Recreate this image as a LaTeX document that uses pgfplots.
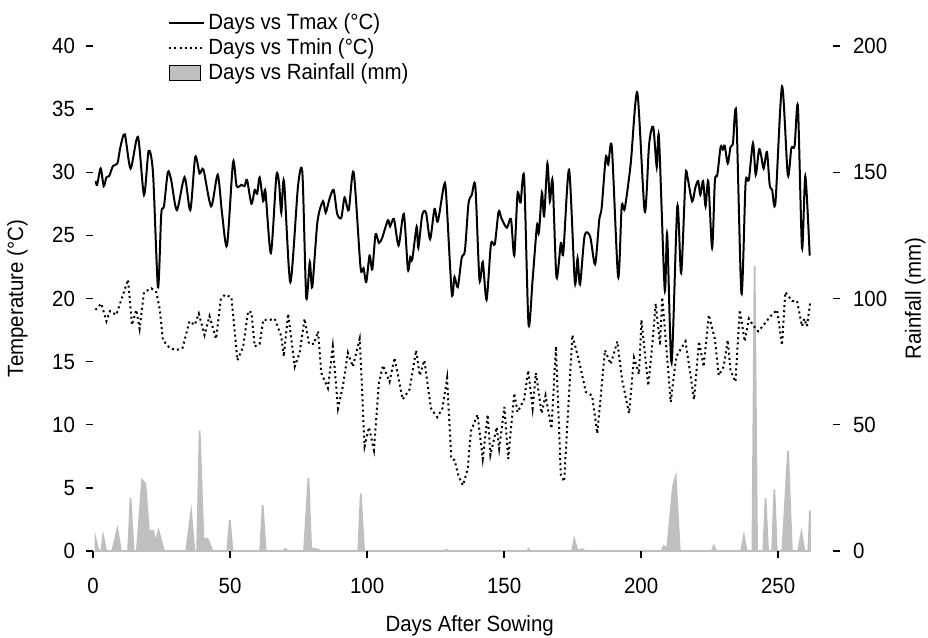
\documentclass[border=0pt]{standalone}
\usepackage{fontspec}
\setmainfont{Liberation Sans}[FakeStretch=0.93]
\usepackage{pgfplots}
\pgfplotsset{compat=1.18}
\definecolor{raingray}{RGB}{190,192,192}

\pgfplotsset{
  common/.style={
    width=370pt, height=252.5pt, scale only axis,
    xmin=0, xmax=270,
    axis line style={draw=none},
    tick align=outside, major tick length=3.5pt,
    tick style={black, line width=0.7pt},
    /pgf/number format/assume math mode=true,
    tick label style={font=\fontsize{11}{13}\selectfont},
    label style={font=\fontsize{11}{13}\selectfont, inner sep=0pt},
  }
}

\begin{document}
\begin{tikzpicture}[font=\fontsize{11}{13}\selectfont]

% rainfall, right axis (drawn first, sits behind)
\begin{axis}[common, clip=false,
  ymin=0, ymax=200, ytick={0,50,...,200},
  axis y line*=right, axis x line=none,
  yticklabel style={xshift=3pt},
  ylabel={Rainfall (mm)},
  ylabel style={at={(axis description cs:1.111,0.5)}, anchor=center}]
\addplot[fill=raingray, draw=raingray, line width=0.9pt] coordinates {
 (0.9,5.0) (2.0,0) (3.0,0) (3.7,5.9) (4.8,0) (7.0,0) (8.9,8.6) (10.2,0)
 (12.8,0) (13.7,20.9) (14.8,0) (16.0,0) (17.9,28.1) (19.1,26.6) (20.4,8.0)
 (21.0,8.0) (22.0,7.9) (22.7,3.0) (23.9,8.0) (25.9,0) (34.0,0) (35.8,15.3)
 (37.0,0) (38.0,0) (38.9,47.7) (40.3,4.5) (41.7,4.8) (42.4,3.5) (43.5,0)
 (49.0,0) (49.9,12.3) (50.9,0) (61.0,0) (61.9,18.2) (63.0,0) (69.5,0)
 (70.2,0.8) (71.0,0) (77.0,0) (78.6,28.8) (79.6,1.0) (82.0,0.6) (83.0,0)
 (96.8,0) (97.7,22.8) (98.9,0) (128.5,0) (128.9,0.5) (129.5,0) (158.5,0)
 (158.9,0.8) (159.5,0) (174.8,0) (175.6,4.6) (176.8,0) (178.6,0.7) (179.5,0)
 (207.5,0) (208.3,2.0) (209.5,1.0) (211.6,25.5) (212.6,29.4) (214.1,0)
 (225.8,0) (226.5,2.0) (227.4,0) (236.5,0) (237.5,5.9) (238.5,0) (240.6,0)
 (241.4,112.9) (242.3,0) (244.6,0) (245.4,20.9) (246.3,0) (247.8,0)
 (248.6,24.4) (249.5,0) (251.5,0) (253.6,39.6) (255.0,0) (257.3,0)
 (258.5,7.3) (259.6,0) (261.0,0) (261.6,16.0)
} \closedcycle;
\end{axis}

% temperatures, left axis
\begin{axis}[common, clip=false,
  ymin=0, ymax=40, ytick={0,5,...,40},
  xtick={0,50,...,250},
  axis y line*=left, axis x line*=bottom,
  yticklabel style={xshift=-2pt},
  xticklabel style={yshift=-6.5pt},
  ylabel={Temperature (°C)},
  ylabel style={at={(axis description cs:-0.102,0.5)}, anchor=center},
  xlabel={Days After Sowing},
  xlabel style={at={(axis description cs:0.509,-0.148)}, anchor=center},
  legend style={at={(axis description cs:0.093,1.08)}, anchor=north west,
    draw=none, fill=none, font=\fontsize{11}{13}\selectfont,
    row sep=-1pt},
  legend cell align=left]
\addplot[black, line width=1pt, smooth, tension=0.45] coordinates {
 (1,29.3) (1.5,29.0) (2.8,30.3) (3.9,28.9) (4.9,29.6) (5.9,29.7) (7.3,30.5)
 (8.9,30.7) (10,32.0) (11.6,33.0) (13.7,30.3) (16.4,32.8) (18.6,28.2)
 (20.3,31.7) (21.9,29.9) (23.7,20.9) (24.9,26.7) (25.9,27.3) (27.3,30.0)
 (28.5,29.4) (30.6,27.0) (33.4,29.6) (35.5,27.0) (37.3,31.2) (38.9,29.9)
 (40.3,30.2) (43.1,27.3) (45.5,29.8) (47.1,26.7) (48.9,24.2) (51.1,30.8)
 (52.4,28.9) (54.2,29.0) (55.3,28.9) (56.2,29.4) (57.8,27.5) (59,28.6)
 (59.9,28.3) (60.8,29.6) (62.1,27.7) (62.9,28.5) (64.9,23.6) (66.9,29.7)
 (67.9,29.1) (68.7,26.8) (69.7,29.3) (72,21.3) (74.8,28.9) (76.4,29.9)
 (77.8,20.1) (79.1,22.9) (80,20.9) (81.9,26.1) (83.9,27.7) (84.9,26.8)
 (86.3,27.9) (87.8,28.6) (89.1,26.7) (90.6,26.4) (91.8,28.0) (93.3,27.0)
 (95.1,30.0) (97.6,22.5) (98.7,22.4) (99.7,21.3) (100.9,23.4) (101.9,22.3)
 (103.1,25.1) (104.3,24.4) (105.5,24.8) (107.6,26.2) (108.4,25.7)
 (109.8,26.3) (111.5,24.2) (113.4,26.7) (114.9,22.3) (115.8,23.3)
 (116.5,23.1) (118.1,25.7) (118.7,24.0) (120.1,26.6) (121.5,26.8)
 (123,24.7) (124.6,27.1) (125.8,26.1) (128,28.9) (128.8,28.4) (130.9,20.4)
 (131.9,21.7) (133.1,20.9) (134.5,23.2) (135.7,23.8) (137,27.5) (138.2,28.2)
 (139.5,28.9) (141,21.5) (142.2,22.9) (143.6,19.9) (145.2,24.3) (146.6,24.3)
 (148,26.9) (149.1,26.3) (151,25.6) (152.5,26.3) (153.7,23.4) (154.9,28.3)
 (156,27.6) (157.3,29.6) (158.9,18.0) (160.4,21.5) (162,25.8) (162.7,25.2)
 (163.8,28.4) (164.6,26.5) (165.8,30.7) (166.7,27.7) (167.7,29.3)
 (169.1,21.7) (170.7,24.4) (171.6,23.6) (173.7,30.2) (175.8,21.3)
 (176.8,23.2) (177.7,21.1) (179.4,25.0) (181.4,24.9) (183.2,22.7)
 (184.7,26.2) (185.6,27.2) (187.1,31.2) (188,30.6) (189.3,32.0) (191.6,21.7)
 (192.9,27.3) (194,27.1) (196.2,30.7) (198.6,36.3) (201.3,26.9) (202.9,32.2)
 (204.4,33.6) (205.7,30.4) (206.5,32.8) (208.6,20.7) (209.5,25.1)
 (211.1,14.9) (213.2,27.3) (214.6,22.0) (216.2,29.7) (217,29.5) (218.6,27.7)
 (219.8,28.8) (220.8,29.3) (221.6,28.2) (222.6,29.3) (223.5,27.3)
 (224.5,29.3) (225.9,24.0) (226.9,29.3) (227.8,29.8) (229,32.0) (229.8,31.8)
 (230.5,32.1) (231.6,30.7) (232.6,32.0) (233.5,32.3) (234.7,34.7)
 (236.6,20.4) (238.1,29.1) (239.3,29.4) (240.8,32.3) (241.8,29.8) (243,31.8)
 (243.8,31.3) (244.7,30.3) (245.9,31.6) (246.9,29.0) (247.8,28.6) (249,27.6)
 (251.4,36.8) (253.5,29.8) (254.8,31.9) (256,32.1) (257.2,35.2) (258.7,24.0)
 (259.9,29.7) (261.5,23.4)
};
\addlegendentry{Days vs Tmax (°C)}
\addplot[black, line width=1pt, dash pattern=on 1pt off 1.6pt] coordinates {
 (0.9,19.1) (3.0,19.6) (4.9,18.2) (6.2,19.0) (8.5,18.7) (12.8,21.5)
 (14.2,17.9) (15.8,19.1) (17.0,17.6) (18.6,20.5) (21.3,20.8) (23.1,20.5)
 (24.4,19.1) (25.5,16.7) (27.9,16.1) (30.3,15.9) (32.7,16.1) (35.2,18.2)
 (37.1,17.9) (38.6,18.8) (40.7,17.1) (42.5,18.6) (44.9,16.8) (46.6,19.9)
 (48.1,20.3) (50.5,20.1) (52.7,15.1) (54.8,16.2) (56.6,19.0) (57.8,18.9)
 (59.0,16.2) (60.8,16.4) (62.1,18.3) (64.5,18.3) (66.3,18.4) (68.7,17.0)
 (69.6,15.4) (71.2,18.8) (73.6,14.6) (75.4,15.7) (77.2,18.4) (78.8,16.4)
 (80.6,16.4) (82.1,17.4) (83.3,14.1) (85.7,12.9) (87.5,16.2) (89.4,11.3)
 (91.2,13.1) (93.0,15.7) (94.8,14.6) (97.3,16.8) (99.1,8.3) (100.7,9.8)
 (102.5,8.0) (104.3,13.3) (105.8,14.7) (108.2,13.4) (110.0,15.3)
 (113.0,12.0) (115.5,12.8) (117.9,15.9) (119.2,13.9) (120.9,15.1)
 (123.3,11.3) (125.6,10.6) (127.5,11.3) (129.2,13.7) (130.7,7.3) (131.9,7.2)
 (133.4,5.9) (135.0,5.2) (136.7,6.5) (137.9,9.5) (140.3,10.8) (142.2,7.3)
 (144.0,10.8) (145.0,7.6) (147.3,9.8) (148.2,8.1) (150.1,11.4) (151.5,7.3)
 (153.7,12.5) (154.9,11.0) (157.3,12.0) (158.8,14.3) (160.4,11.3)
 (161.6,14.1) (163.7,10.9) (165.1,12.3) (167.3,9.7) (168.9,16.2) (170.7,6.0)
 (171.9,5.5) (174.9,17.1) (177.4,15.0) (179.8,12.6) (182.1,12.3) (184.0,9.3)
 (186.8,15.9) (188.9,14.8) (191.3,16.6) (193.1,13.5) (195.6,10.9)
 (197.4,15.3) (199.2,14.0) (200.1,18.3) (202.6,13.1) (204.1,16.4)
 (205.3,19.6) (206.9,16.3) (207.7,20.1) (210.8,11.8) (212.8,15.4)
 (216.2,16.6) (219.3,12.0) (221.1,16.6) (222.8,14.6) (224.7,18.7)
 (226.9,16.8) (228.3,13.9) (230.1,14.6) (231.6,16.7) (232.6,14.3)
 (234.4,13.4) (236.0,19.1) (237.8,16.6) (239.3,18.4) (241.1,17.8)
 (242.7,17.4) (244.7,17.9) (247.2,18.6) (249.6,19.1) (251.4,16.3)
 (252.6,20.5) (255.1,19.8) (256.9,19.8) (258.7,17.8) (259.5,18.4)
 (260.5,17.8) (261.7,19.7)
};
\addlegendentry{Days vs Tmin (°C)}
\addlegendimage{legend image code/.code={\draw[fill=raingray, draw=black, line width=0.6pt] (0pt,-3.75pt) rectangle (15.5pt,3.75pt);}}
\addlegendentry{Days vs Rainfall (mm)}
% keep the reference's margins
\path (rel axis cs:-0.1257,-0.1723) rectangle (rel axis cs:1.1284,1.0911);
\end{axis}
\end{tikzpicture}
\end{document}
